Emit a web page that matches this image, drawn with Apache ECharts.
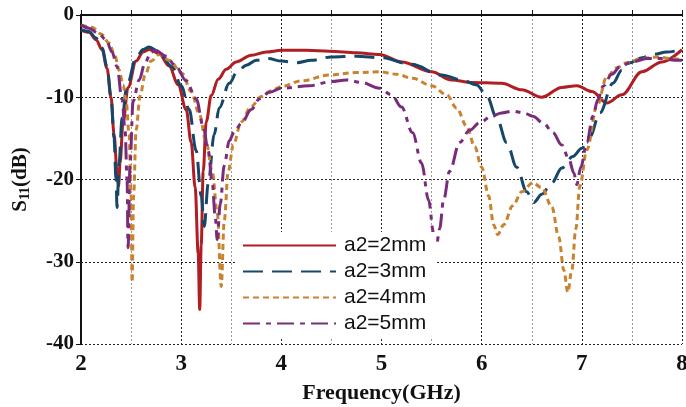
<!DOCTYPE html>
<html>
<head>
<meta charset="utf-8">
<script src="https://cdn.jsdelivr.net/npm/echarts@6/dist/echarts.min.js"></script>
<style>
  html, body { margin: 0; padding: 0; background: #fff; }
  #chart { width: 686px; height: 407px; }
</style>
</head>
<body>
<div id="chart"></div>
<script>
  'use strict';

  // a2 = 2mm
  var freq2 = [2.0, 2.08, 2.15, 2.21, 2.26, 2.3, 2.33, 2.36, 2.375, 2.39, 2.42, 2.47, 2.55, 2.62, 2.68, 2.78, 2.88, 2.97, 3.05, 3.1, 3.14, 3.17, 3.185, 3.2, 3.22, 3.25, 3.3, 3.37, 3.45, 3.55, 3.7, 3.85, 4.0, 4.25, 4.48, 4.75, 4.98, 5.2, 5.5, 5.7, 5.9, 6.2, 6.4, 6.6, 6.8, 6.95, 7.1, 7.25, 7.4, 7.6, 7.8, 8.0];
  var s11_2 = [-1.8, -2.1, -3.0, -4.2, -6.5, -10.0, -14.5, -19.0, -20.8, -18.0, -13.0, -8.8, -5.6, -4.5, -4.2, -4.7, -6.2, -8.5, -11.5, -15.5, -21.0, -29.0, -35.8, -28.0, -19.0, -13.0, -9.8, -7.8, -6.6, -5.7, -4.9, -4.5, -4.3, -4.3, -4.4, -4.6, -4.8, -5.7, -6.9, -7.9, -8.2, -8.3, -9.1, -10.0, -8.8, -8.6, -9.3, -10.7, -9.7, -6.9, -5.7, -4.2];

  // a2 = 3mm
  var freq3 = [2.0, 2.08, 2.15, 2.21, 2.26, 2.3, 2.33, 2.35, 2.36, 2.38, 2.41, 2.46, 2.55, 2.62, 2.68, 2.78, 2.91, 3.0, 3.08, 3.15, 3.2, 3.23, 3.27, 3.33, 3.38, 3.48, 3.56, 3.65, 3.75, 3.87, 4.0, 4.15, 4.3, 4.5, 4.75, 5.0, 5.3, 5.6, 5.8, 5.95, 6.05, 6.15, 6.25, 6.35, 6.45, 6.52, 6.6, 6.7, 6.8, 6.91, 7.0, 7.08, 7.18, 7.31, 7.4, 7.48, 7.6, 7.71, 7.85, 8.0];
  var s11_3 = [-1.8, -2.0, -2.8, -4.0, -6.3, -10.0, -15.0, -20.0, -23.4, -18.0, -12.5, -8.5, -5.2, -4.2, -3.9, -4.5, -6.3, -8.6, -11.5, -16.5, -22.0, -25.7, -20.5, -14.5, -11.3, -8.3, -6.9, -6.1, -5.5, -5.3, -5.6, -5.8, -5.5, -5.1, -5.0, -5.2, -6.0, -7.3, -7.9, -8.5, -9.8, -12.5, -15.5, -18.5, -21.5, -22.8, -21.8, -20.4, -18.6, -17.2, -16.2, -14.8, -11.9, -8.3, -6.7, -5.8, -5.2, -4.8, -4.5, -4.2];

  // a2 = 4mm
  var freq4 = [2.0, 2.11, 2.2, 2.28, 2.34, 2.38, 2.42, 2.45, 2.48, 2.5, 2.51, 2.525, 2.55, 2.59, 2.64, 2.7, 2.78, 2.88, 3.01, 3.1, 3.18, 3.25, 3.31, 3.36, 3.4, 3.43, 3.47, 3.52, 3.6, 3.7, 3.8, 3.9, 4.0, 4.2, 4.48, 4.75, 4.98, 5.15, 5.31, 5.5, 5.65, 5.75, 5.85, 5.93, 6.0, 6.07, 6.12, 6.16, 6.22, 6.31, 6.4, 6.51, 6.6, 6.7, 6.77, 6.82, 6.86, 6.9, 6.94, 6.98, 7.05, 7.15, 7.25, 7.35, 7.45, 7.6, 7.75, 7.9, 8.0];
  var s11_4 = [-1.2, -1.5, -2.3, -3.4, -5.0, -6.7, -8.5, -10.3, -14.5, -22.0, -32.5, -22.0, -14.0, -9.8, -7.3, -5.6, -4.8, -5.5, -7.1, -9.3, -12.0, -15.5, -19.0, -24.0, -33.0, -25.0, -19.0, -15.8, -13.0, -11.1, -9.9, -9.2, -8.7, -8.0, -7.3, -7.0, -6.9, -7.2, -7.7, -8.6, -9.7, -11.3, -13.5, -16.0, -18.5, -22.0, -25.5, -26.7, -25.5, -23.2, -21.5, -20.4, -21.0, -23.3, -27.0, -31.0, -33.7, -31.0, -26.0, -20.8, -16.4, -11.1, -7.5, -6.4, -5.8, -5.3, -5.1, -5.3, -5.5];

  // a2 = 5mm
  var freq5 = [2.0, 2.08, 2.17, 2.25, 2.31, 2.36, 2.41, 2.44, 2.46, 2.47, 2.49, 2.52, 2.58, 2.64, 2.7, 2.74, 2.85, 2.95, 3.05, 3.15, 3.22, 3.27, 3.31, 3.34, 3.36, 3.39, 3.43, 3.48, 3.53, 3.6, 3.7, 3.78, 3.88, 4.0, 4.28, 4.5, 4.65, 4.8, 4.98, 5.1, 5.2, 5.31, 5.4, 5.47, 5.52, 5.55, 5.58, 5.62, 5.68, 5.78, 5.88, 5.98, 6.1, 6.2, 6.31, 6.42, 6.51, 6.62, 6.71, 6.8, 6.87, 6.92, 6.95, 6.99, 7.05, 7.11, 7.16, 7.21, 7.3, 7.38, 7.5, 7.65, 7.8, 7.93, 8.0];
  var s11_5 = [-1.2, -1.6, -2.2, -3.0, -4.5, -6.3, -10.3, -14.0, -20.0, -28.3, -18.0, -10.5, -7.9, -5.8, -4.5, -4.3, -5.0, -6.3, -8.0, -10.2, -13.5, -16.5, -20.4, -24.5, -27.3, -23.0, -18.3, -15.3, -14.2, -13.2, -11.5, -10.2, -9.4, -8.9, -8.6, -8.1, -7.9, -8.2, -8.9, -9.7, -11.2, -14.3, -18.0, -22.5, -26.5, -27.9, -26.0, -22.5, -19.0, -15.5, -14.0, -13.1, -12.3, -11.9, -11.7, -11.9, -12.3, -13.2, -14.3, -15.8, -17.5, -19.2, -20.6, -18.5, -15.5, -12.3, -10.3, -8.7, -7.2, -6.3, -5.7, -5.3, -5.3, -5.5, -5.5];

  var seriesNames = ['a2=2mm', 'a2=3mm', 'a2=4mm', 'a2=5mm'];
  var yTicks = [0, -10, -20, -30, -40];

  function pairs(xs, ys) {
    var out = [];
    for (var i = 0; i < xs.length; i++) {
      out.push([xs[i], ys[i]]);
    }
    return out;
  }

  function makeSeries(name, xs, ys, color, type) {
    return {
      name: name,
      type: 'line',
      data: pairs(xs, ys),
      symbol: 'none',
      smooth: 0.35,
      smoothMonotone: 'x',
      lineStyle: { color: color, width: 3, type: type },
      itemStyle: { color: color }
    };
  }

  var serif = '"Liberation Serif", "Times New Roman", serif';
  var chart = echarts.init(document.getElementById('chart'));

  var option = {
    animation: false,
    backgroundColor: '#fff',
    grid: { left: 81, right: 4, top: 15, bottom: 63, outerBoundsMode: 'none' },
    legend: {
      orient: 'vertical',
      left: 236,
      top: 232,
      itemWidth: 93,
      itemHeight: 14,
      itemGap: 5,
      padding: [3, 10, 3, 6],
      backgroundColor: '#fff',
      itemStyle: { opacity: 0 },
      data: seriesNames,
      textStyle: { fontFamily: '"Liberation Sans", Arial, sans-serif', fontSize: 21, color: '#111', padding: [0, 0, 0, 3] }
    },
    xAxis: {
      type: 'value',
      min: 2,
      max: 8,
      interval: 1,
      name: 'Frequency(GHz)',
      nameLocation: 'middle',
      nameGap: 38,
      nameTextStyle: { fontFamily: serif, fontWeight: 'bold', fontSize: 22, color: '#111' },
      axisLine: { lineStyle: { color: '#111', width: 2 } },
      axisTick: { inside: true, length: 5, lineStyle: { color: '#111', width: 1 } },
      minorTick: { show: true, splitNumber: 2, length: 5, lineStyle: { color: '#111' } },
      axisLabel: { fontFamily: serif, fontWeight: 'bold', fontSize: 23, color: '#111', margin: 9 },
      splitLine: { show: true, lineStyle: { color: '#222', type: [2, 2], width: 1 } },
      minorSplitLine: { show: true, lineStyle: { color: '#999', type: [2, 2], width: 1 } }
    },
    yAxis: {
      type: 'value',
      min: -40,
      max: 0,
      interval: 10,
      name: '{s|S}{sub|11}{n|(dB)}',
      nameLocation: 'middle',
      nameRotate: 90,
      nameGap: 49,
      nameTextStyle: {
        rich: {
          s: { fontFamily: serif, fontWeight: 'bold', fontSize: 21, color: '#111' },
          sub: { fontFamily: serif, fontWeight: 'bold', fontSize: 14, color: '#111', verticalAlign: 'bottom', padding: [8, 0, 0, 0] },
          n: { fontFamily: serif, fontWeight: 'bold', fontSize: 21, color: '#111' }
        }
      },
      axisLine: { show: true, lineStyle: { color: '#111', width: 2 } },
      axisTick: { show: true, inside: false, length: 5, lineStyle: { color: '#111' } },
      axisLabel: {
        fontFamily: serif, fontWeight: 'bold', fontSize: 21, color: '#111', margin: 7,
        formatter: function (v) {
          return yTicks.indexOf(v) >= 0 ? String(v) : '';
        }
      },
      splitLine: { show: true, lineStyle: { color: '#222', type: [2, 2], width: 1 } }
    },
    series: [
      makeSeries(seriesNames[0], freq2, s11_2, '#b01e23', 'solid'),
      makeSeries(seriesNames[1], freq3, s11_3, '#15476a', [20, 9]),
      makeSeries(seriesNames[2], freq4, s11_4, '#c9822e', [6, 4]),
      makeSeries(seriesNames[3], freq5, s11_5, '#7a2c7c', [17, 6, 5, 6])
    ]
  };

  chart.setOption(option);
</script>
</body>
</html>
